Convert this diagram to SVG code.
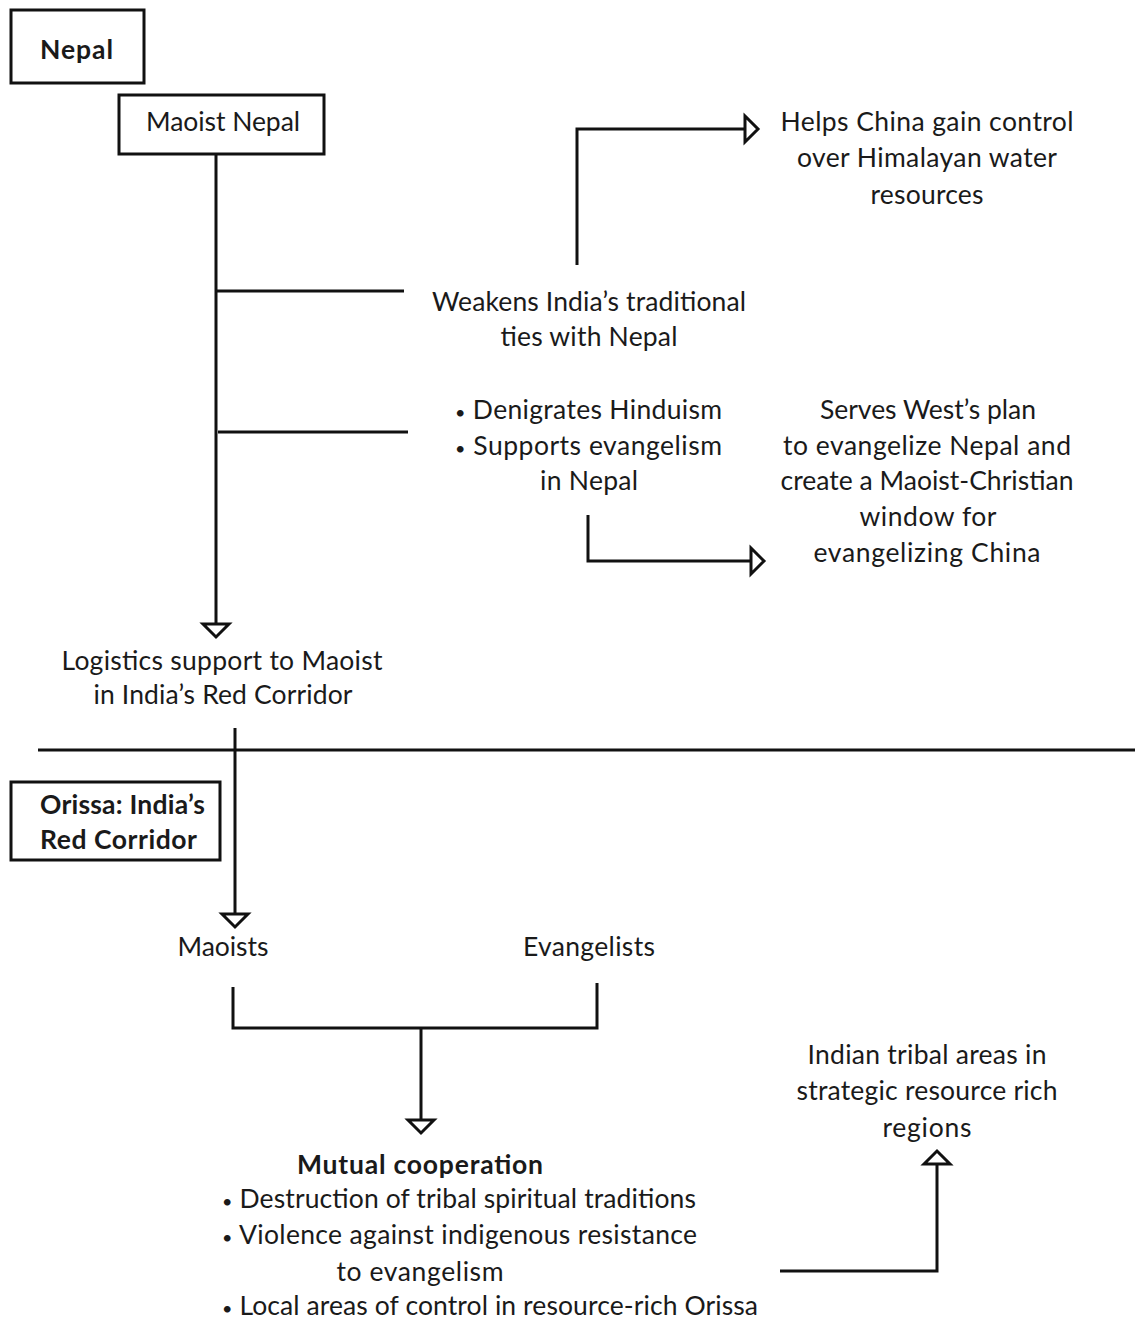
<svg xmlns="http://www.w3.org/2000/svg" width="1135" height="1322" viewBox="0 0 1135 1322">
  <style>
    .t { font-family: Lato, "Open Sans", "Liberation Sans", sans-serif; font-size: 26.5px; fill: #1a1a1a; }
    .c { text-anchor: middle; }
    .b { font-weight: bold; }
    .dot { font-size: 18px; }
    .box { fill: #ffffff; stroke: #111111; stroke-width: 3; }
    .ln { fill: none; stroke: #111111; stroke-width: 3; stroke-linejoin: miter; }
  </style>
  <defs>
    <marker id="arr" markerUnits="userSpaceOnUse" markerWidth="20" markerHeight="34" viewBox="-2 -16 20 32" refX="0" refY="0" orient="auto">
      <path d="M0,-13 L13,0 L0,13 Z" fill="#ffffff" stroke="#111111" stroke-width="3" stroke-linejoin="miter"/>
    </marker>
  </defs>
  <rect width="1135" height="1322" fill="#ffffff"/>

  <!-- connectors -->
  <g id="connectors">
    <path class="ln" d="M216,154 V624" marker-end="url(#arr)"/>
    <path class="ln" d="M216,291 H404"/>
    <path class="ln" d="M218,432 H408"/>
    <path class="ln" d="M577,265 V129 H745" marker-end="url(#arr)"/>
    <path class="ln" d="M588,515 V561 H751" marker-end="url(#arr)"/>
    <path class="ln" d="M38,750 H1135" stroke-width="4"/>
    <path class="ln" d="M235,728 V914" marker-end="url(#arr)"/>
    <path class="ln" d="M233,987 V1028 H597 V983"/>
    <path class="ln" d="M421,1028 V1120" marker-end="url(#arr)"/>
    <path class="ln" d="M780,1271 H937 V1164" marker-end="url(#arr)"/>
  </g>

  <!-- nodes -->
  <g id="nepal">
    <rect class="box" x="11" y="10" width="133" height="73"/>
    <text class="t b" x="40" y="59" textLength="73">Nepal</text>
  </g>
  <g id="maoist-nepal">
    <rect class="box" x="119" y="95" width="205" height="59"/>
    <text class="t" x="146" y="131" textLength="154">Maoist Nepal</text>
  </g>
  <g id="helps-china">
    <text class="t c" x="927" y="131" textLength="293">Helps China gain control</text>
    <text class="t c" x="927" y="167" textLength="260">over Himalayan water</text>
    <text class="t c" x="927" y="204" textLength="113">resources</text>
  </g>
  <g id="weakens">
    <text class="t c" x="589" y="311" textLength="314">Weakens India’s traditional</text>
    <text class="t c" x="589" y="346" textLength="177">ties with Nepal</text>
  </g>
  <g id="denigrates">
    <text class="t" x="455" y="419" textLength="267"><tspan class="dot">•</tspan> Denigrates Hinduism</text>
    <text class="t" x="455" y="455" textLength="267"><tspan class="dot">•</tspan> Supports evangelism</text>
    <text class="t c" x="589" y="490" textLength="98">in Nepal</text>
  </g>
  <g id="serves-west">
    <text class="t c" x="928" y="419" textLength="216">Serves West’s plan</text>
    <text class="t c" x="927" y="455" textLength="288">to evangelize Nepal and</text>
    <text class="t c" x="927" y="490" textLength="293">create a Maoist-Christian</text>
    <text class="t c" x="928" y="526" textLength="137">window for</text>
    <text class="t c" x="927" y="562" textLength="227">evangelizing China</text>
  </g>
  <g id="logistics">
    <text class="t c" x="222" y="670" textLength="321">Logistics support to Maoist</text>
    <text class="t c" x="223" y="704" textLength="259">in India’s Red Corridor</text>
  </g>
  <g id="orissa">
    <rect class="box" x="11" y="782" width="209" height="78"/>
    <text class="t b" x="40" y="814" textLength="165">Orissa: India’s</text>
    <text class="t b" x="40" y="849" textLength="157">Red Corridor</text>
  </g>
  <g id="maoists">
    <text class="t c" x="223" y="956" textLength="91">Maoists</text>
  </g>
  <g id="evangelists">
    <text class="t c" x="589" y="956" textLength="132">Evangelists</text>
  </g>
  <g id="tribal-areas">
    <text class="t c" x="927" y="1064" textLength="239">Indian tribal areas in</text>
    <text class="t c" x="927" y="1100" textLength="261">strategic resource rich</text>
    <text class="t c" x="927" y="1137" textLength="89">regions</text>
  </g>
  <g id="mutual-cooperation">
    <text class="t b c" x="420" y="1174" textLength="246">Mutual cooperation</text>
    <text class="t" x="222" y="1208" textLength="474"><tspan class="dot">•</tspan> Destruction of tribal spiritual traditions</text>
    <text class="t" x="222" y="1244" textLength="475"><tspan class="dot">•</tspan> Violence against indigenous resistance</text>
    <text class="t c" x="420" y="1281" textLength="167">to evangelism</text>
    <text class="t" x="222" y="1315" textLength="536"><tspan class="dot">•</tspan> Local areas of control in resource-rich Orissa</text>
  </g>
</svg>
